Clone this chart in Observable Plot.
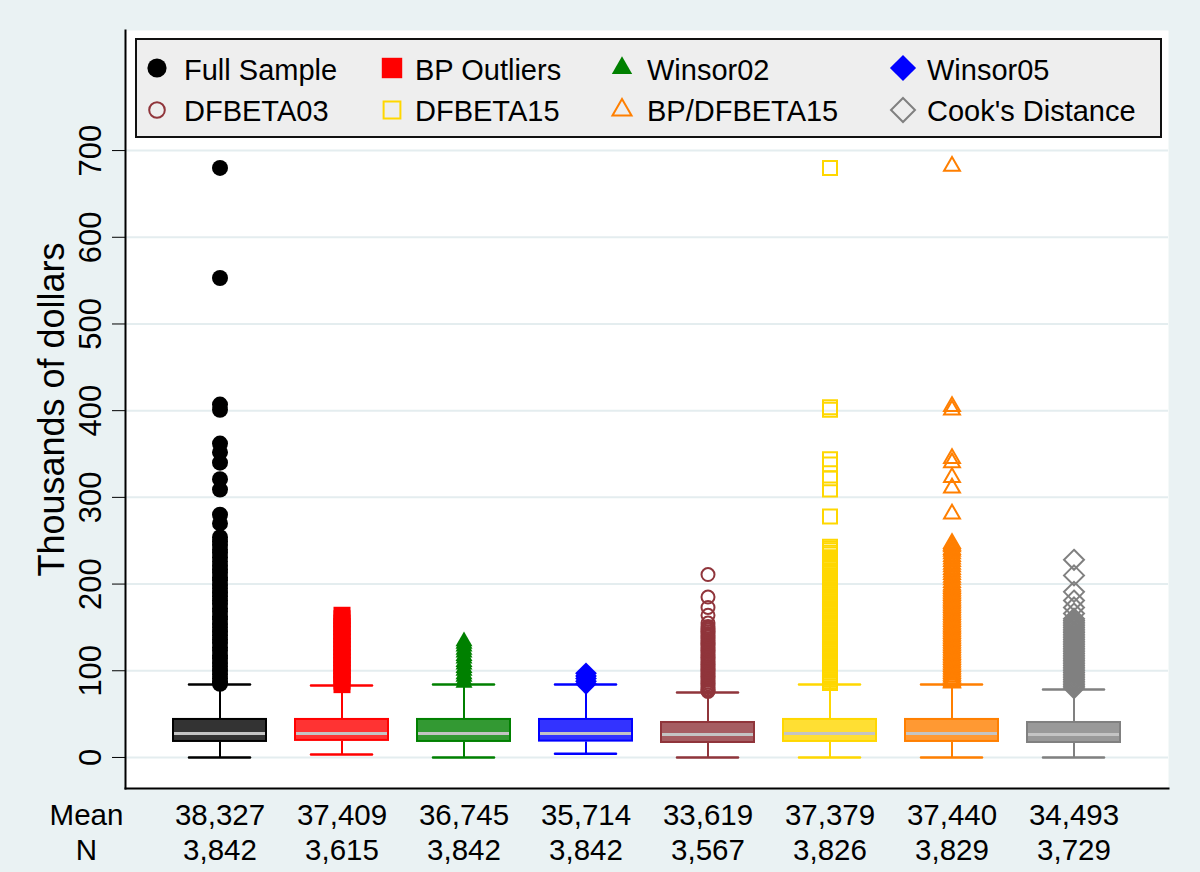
<!DOCTYPE html>
<html>
<head>
<meta charset="utf-8">
<script src="https://cdn.jsdelivr.net/npm/d3@7"></script>
<script src="https://cdn.jsdelivr.net/npm/@observablehq/plot@0.6"></script>
<style>
html, body { margin: 0; padding: 0; background: #EAF2F3; }
#wrap { position: relative; width: 1200px; height: 872px; font-family: Arial, "Liberation Sans", sans-serif; }
#chart svg { display: block; }
#legend { position: absolute; left: 135px; top: 38px; width: 1027px; height: 100px; box-sizing: border-box;
  border: 2px solid #111; background: #EEEEEE; }
#legend .sym { position: absolute; width: 30px; height: 30px; }
#legend .lab { position: absolute; font-size: 29px; line-height: 29px; white-space: nowrap; color: #000; }
</style>
</head>
<body>
<div id="wrap">
  <div id="chart"></div>
  <div id="legend"></div>
</div>
<script>
// ---------------- data ----------------
const groups = ["Full Sample", "BP Outliers", "Winsor02", "Winsor05", "DFBETA03", "DFBETA15", "BP/DFBETA15", "Cook's Distance"];
const q1 = [17.3, 18.5, 17.3, 17.7, 16.1, 17.3, 17.3, 16.1];
const medians = [27.7, 27.7, 27.7, 27.7, 26.5, 27.7, 27.7, 26.5];
const q3 = [45.0, 45.0, 45.0, 45.0, 41.5, 45.0, 45.0, 41.5];
const whiskerLow = [0, 3.5, 0, 4.4, 0, 0, 0, 0];
const whiskerHigh = [84.2, 83.0, 84.2, 84.2, 75.0, 84.2, 84.2, 78.4];
const meanLabels = ["38,327", "37,409", "36,745", "35,714", "33,619", "37,379", "37,440", "34,493"];
const nLabels = ["3,842", "3,615", "3,842", "3,842", "3,567", "3,826", "3,829", "3,729"];
const yTicks = [0, 100, 200, 300, 400, 500, 600, 700];
const yLabel = "Thousands of dollars";

const fullSampleOut = [680, 553, 407, 401, 362, 352, 340, 321, 309, 280, 270, 254, 249, 245, 240, 236, 231, 226, 221, 217, 213, 208, 204, 199, 195, 190, 186, 181, 177, 172, 168, 163, 159, 154, 150, 145, 141, 136, 132, 127, 123, 118, 114, 109, 105, 100, 96, 91, 87, 85];
const bpOut = [164, 160, 155, 151, 146, 142, 137, 133, 128, 124, 119, 115, 110, 106, 101, 97, 92, 88, 84];
const winsor02Out = [134, 131, 128, 124, 121, 117, 114, 110, 107, 103, 100, 96, 93, 89, 86];
const winsor05Out = [97, 94, 91, 88, 85];
const dfbeta03Out = [211, 185, 173, 164, 155, 151, 149, 147, 145, 143, 141, 139, 137, 135, 133, 131, 129, 127, 125, 123, 121, 119, 117, 115, 113, 111, 109, 107, 105, 103, 101, 99, 97, 95, 93, 91, 89, 87, 85, 83, 81, 79, 77, 76];
const dfbeta15Out = [680, 404, 401, 344, 338, 322, 309, 278, 243, 241, 239, 236, 234, 231, 229, 226, 224, 221, 219, 216, 214, 212, 210, 208, 206, 204, 202, 200, 198, 196, 194, 192, 190, 188, 186, 184, 182, 180, 178, 176, 174, 172, 170, 168, 166, 164, 162, 160, 158, 156, 154, 152, 150, 148, 146, 144, 142, 140, 138, 136, 134, 132, 130, 128, 126, 124, 122, 120, 118, 116, 114, 112, 110, 108, 106, 104, 102, 100, 98, 96, 94, 92, 90, 88, 86];
const bpDfbeta15Out = [682, 405, 401, 345, 340, 323, 311, 281, 247, 245, 243, 240, 238, 235, 232, 229, 226, 223, 220, 217, 214, 211, 208, 205, 202, 199, 197, 195, 193, 191, 189, 187, 185, 183, 181, 179, 177, 175, 173, 171, 169, 167, 165, 163, 161, 159, 157, 155, 153, 151, 149, 147, 145, 143, 141, 139, 137, 135, 133, 131, 129, 127, 125, 123, 121, 119, 117, 115, 113, 111, 109, 107, 105, 103, 101, 99, 97, 95, 93, 91, 89, 87, 86];
const cooksOut = [228, 210, 191, 181, 173, 166, 160, 158, 156, 154, 152, 150, 148, 146, 144, 142, 140, 138, 136, 134, 132, 130, 128, 126, 124, 122, 120, 118, 116, 114, 112, 110, 108, 106, 104, 102, 100, 98, 96, 94, 92, 90, 88, 86, 84, 82, 80];

// ---------------- styles ----------------
const strokeColors = ["#000000", "#FF0000", "#008000", "#0000FF", "#90353B", "#FFD700", "#FF7F00", "#808080"];
const boxFills = ["#333333", "#FF3333", "#339933", "#3333FF", "#A65D62", "#FFDF33", "#FF9933", "#999999"];
const markerSymbols = [d3.symbolCircle, d3.symbolSquare, d3.symbolTriangle, d3.symbolDiamond2, d3.symbolCircle, d3.symbolSquare, d3.symbolTriangle, d3.symbolDiamond2];
const markerFilled = [true, true, true, true, false, false, false, false];
const markerR = [8, 9.6, 6.3, 9.8, 6.5, 7.9, 5.9, 9.0];

const outlierSets = [fullSampleOut, bpOut, winsor02Out, winsor05Out, dfbeta03Out, dfbeta15Out, bpDfbeta15Out, cooksOut];

const rows = groups.map((g, i) => ({
  group: g, q1: q1[i], median: medians[i], q3: q3[i], lo: whiskerLow[i], hi: whiskerHigh[i],
  mean: meanLabels[i], n: nLabels[i], stroke: strokeColors[i], fill: boxFills[i]
}));

const font = "Arial, 'Liberation Sans', sans-serif";

const outlierMarks = groups.map((g, i) => Plot.dot(outlierSets[i], {
  x: () => g,
  y: d => d,
  symbol: markerSymbols[i],
  r: markerR[i],
  fill: markerFilled[i] ? strokeColors[i] : "none",
  stroke: markerFilled[i] ? "none" : strokeColors[i],
  strokeWidth: markerFilled[i] ? 0 : 2
}));

const chart = Plot.plot({
  width: 1200,
  height: 872,
  marginLeft: 125,
  marginRight: 32,
  marginTop: 30,
  marginBottom: 84,
  style: { background: "transparent", fontFamily: font, color: "#000", overflow: "visible" },
  x: { type: "band", domain: groups, paddingInner: 0.22, paddingOuter: 0.374, axis: null },
  y: { domain: [-35.8, 838.5], axis: null },
  color: { type: "identity" },
  marks: [
    Plot.frame({ fill: "white", stroke: "none" }),
    Plot.ruleY(yTicks, { stroke: "#E4EDEF", strokeWidth: 2 }),
    Plot.ruleX(rows, { x: "group", y1: "lo", y2: "q1", stroke: "stroke", strokeWidth: 2 }),
    Plot.ruleX(rows, { x: "group", y1: "q3", y2: "hi", stroke: "stroke", strokeWidth: 2 }),
    Plot.tickY(rows, { x: "group", y: "lo", stroke: "stroke", strokeWidth: 2.5, insetLeft: 17, insetRight: 17, strokeLinecap: "round" }),
    Plot.tickY(rows, { x: "group", y: "hi", stroke: "stroke", strokeWidth: 2.5, insetLeft: 17, insetRight: 17, strokeLinecap: "round" }),
    Plot.barY(rows, { x: "group", y1: "q1", y2: "q3", fill: "fill", stroke: "stroke", strokeWidth: 2, inset: 1 }),
    Plot.tickY(rows, { x: "group", y: "median", stroke: "#C4C4C4", strokeWidth: 3, insetLeft: 2, insetRight: 2 }),
    ...outlierMarks,
    Plot.frame({ anchor: "left", stroke: "#000", strokeWidth: 2 }),
    Plot.frame({ anchor: "bottom", stroke: "#000", strokeWidth: 2 }),
    Plot.axisY(yTicks, { anchor: "left", tickSize: 13, tickPadding: 12, tickRotate: -90, fontSize: 31, label: null, stroke: "#000" }),
    Plot.text([yLabel], { frameAnchor: "left", rotate: -90, dx: -62, textAnchor: "middle", lineAnchor: "bottom", fontSize: 36 }),
    Plot.text(rows, { x: "group", text: "mean", frameAnchor: "bottom", dy: 36, lineAnchor: "bottom", fontSize: 29.5 }),
    Plot.text(rows, { x: "group", text: "n", frameAnchor: "bottom", dy: 71, lineAnchor: "bottom", fontSize: 29.5 }),
    Plot.text(["Mean"], { frameAnchor: "bottom-left", dx: -39, dy: 36, textAnchor: "middle", lineAnchor: "bottom", fontSize: 29.5 }),
    Plot.text(["N"], { frameAnchor: "bottom-left", dx: -39, dy: 71, textAnchor: "middle", lineAnchor: "bottom", fontSize: 29.5 })
  ]
});
document.getElementById("chart").appendChild(chart);

// ---------------- legend ----------------
const legend = document.getElementById("legend");
const symX = [20, 255, 485, 766];
const labX = [47, 278, 510, 790];
const rowCY = [28, 69.5];
const rowBase = [40, 81];
groups.forEach((g, i) => {
  const col = i % 4, row = Math.floor(i / 4);
  const r = markerR[i] * 1.2;
  const path = d3.symbol(markerSymbols[i], Math.PI * r * r)();
  const svg = document.createElementNS("http://www.w3.org/2000/svg", "svg");
  svg.setAttribute("class", "sym");
  svg.setAttribute("viewBox", "-15 -15 30 30");
  svg.style.left = (symX[col] - 15) + "px";
  svg.style.top = (rowCY[row] - 15) + "px";
  const p = document.createElementNS("http://www.w3.org/2000/svg", "path");
  p.setAttribute("d", path);
  p.setAttribute("fill", markerFilled[i] ? strokeColors[i] : "none");
  p.setAttribute("stroke", markerFilled[i] ? "none" : strokeColors[i]);
  p.setAttribute("stroke-width", markerFilled[i] ? 0 : 2);
  svg.appendChild(p);
  legend.appendChild(svg);
  const lab = document.createElement("div");
  lab.className = "lab";
  lab.textContent = g;
  lab.style.left = labX[col] + "px";
  lab.style.top = (rowBase[row] - 24.5) + "px";
  legend.appendChild(lab);
});
</script>
</body>
</html>
